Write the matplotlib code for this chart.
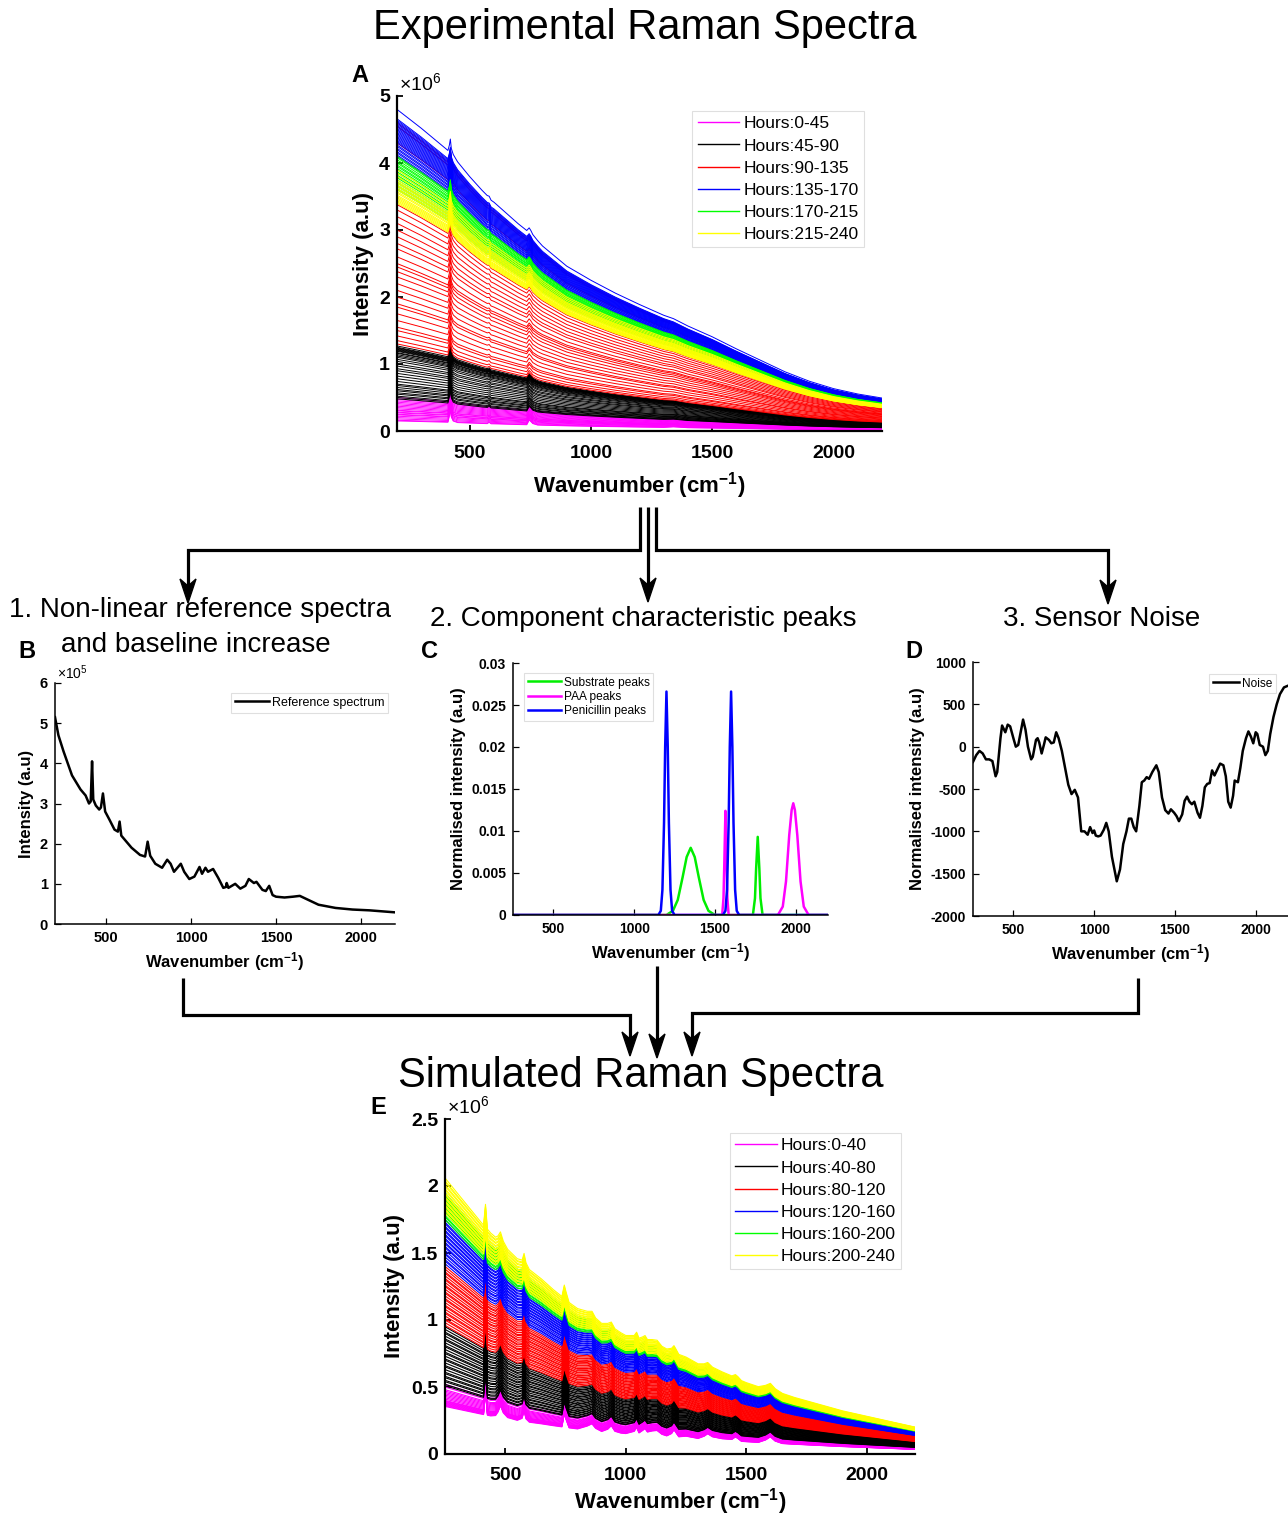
import numpy as np
import matplotlib
matplotlib.use('Agg')
import matplotlib.pyplot as plt
from matplotlib.lines import Line2D
from matplotlib.patches import Polygon

plt.rcParams['font.family'] = ['Liberation Sans', 'DejaVu Sans']
plt.rcParams['mathtext.fontset'] = 'custom'
plt.rcParams['mathtext.rm'] = 'Liberation Sans'
plt.rcParams['mathtext.it'] = 'Liberation Sans:italic'
plt.rcParams['mathtext.bf'] = 'Liberation Sans:bold'
plt.rcParams['axes.unicode_minus'] = False

# ---------------- DATA ----------------
COLORS = ['#ff00ff', '#000000', '#ff0000', '#0000ff', '#00ff00', '#ffff00']

# Panel A: experimental spectra (intensity x1e6)
wn_A = [200, 250, 300, 350, 400, 410, 416, 420, 424, 432, 450, 500, 550, 572, 580, 588, 600,
        650, 700, 735, 745, 752, 760, 780, 800, 900, 1000, 1100, 1200, 1300, 1340, 1400,
        1500, 1600, 1700, 1800, 1900, 2000, 2100, 2200]
base_A = [4.78, 4.64, 4.50, 4.35, 4.20, 4.17, 4.15, 4.14, 4.12, 4.09, 4.00, 3.78, 3.58, 3.50,
          3.47, 3.43, 3.40, 3.24, 3.08, 2.98, 2.95, 2.93, 2.90, 2.83, 2.75, 2.45, 2.24, 2.05,
          1.88, 1.72, 1.66, 1.56, 1.40, 1.22, 1.05, 0.88, 0.74, 0.63, 0.55, 0.49]
peak_A = [0, 0, 0, 0, 0, 0, 0.10, 0.20, 0.08, 0.02, 0, 0, 0, 0, 0.02, 0, 0,
          0, 0, 0, 0.07, 0.05, 0.02, 0, 0, 0, 0, 0, 0, 0, 0.01, 0,
          0, 0, 0, 0, 0, 0, 0, 0]
labels_A = ['Hours:0-45', 'Hours:45-90', 'Hours:90-135', 'Hours:135-170',
            'Hours:170-215', 'Hours:215-240']
start_A_0_45 = [0.50, 0.47, 0.45, 0.43, 0.41, 0.39, 0.37, 0.35, 0.33, 0.31, 0.30, 0.28,
                0.27, 0.25, 0.24, 0.22, 0.20, 0.18, 0.16, 0.15]
start_A_45_90 = [1.27, 1.25, 1.24, 1.23, 1.22, 1.21, 1.20, 1.19, 1.17, 1.16, 1.14, 1.12,
                 1.10, 1.07, 1.04, 1.00, 0.97, 0.93, 0.90, 0.86, 0.82, 0.78, 0.74, 0.70,
                 0.68, 0.65, 0.62, 0.60, 0.57, 0.55, 0.52, 0.50, 0.48]
start_A_90_135 = [3.38, 3.30, 3.20, 3.10, 3.00, 2.90, 2.80, 2.72, 2.60, 2.50, 2.45, 2.38,
                  2.30, 2.20, 2.10, 2.00, 1.90, 1.85, 1.75, 1.65, 1.55, 1.50, 1.42, 1.35,
                  1.30, 4.60, 4.55, 4.30]
start_A_135_170 = [4.80, 4.66, 4.64, 4.62, 4.60, 4.58, 4.56, 4.54, 4.52, 4.50, 4.48, 4.46,
                   4.44, 4.42, 4.40, 4.38, 4.36, 4.34, 4.32, 4.30, 4.27, 4.25, 4.22, 4.20,
                   4.17, 4.15, 4.12, 4.10]
start_A_170_215 = [4.10, 4.08, 4.05, 4.02, 4.00, 3.97, 3.95, 3.92, 3.90, 3.87, 3.85, 3.82,
                   3.80, 3.78, 3.75, 3.72, 3.70, 3.67, 3.65, 3.62, 3.60]
start_A_215_240 = [3.90, 3.85, 3.80, 3.75, 3.72, 3.70, 3.67, 3.65, 3.62, 3.60, 3.57, 3.55,
                   3.52, 3.50, 3.48, 3.46, 3.44, 3.42, 3.40]

# Panel B: reference spectrum (x1e5)
wn_B = [200, 220, 250, 300, 350, 380, 400, 410, 418, 425, 440, 460, 470, 482, 495, 520, 550,
        570, 580, 590, 620, 650, 700, 730, 745, 760, 790, 830, 860, 880, 900, 940, 960, 990,
        1020, 1050, 1065, 1085, 1100, 1130, 1160, 1190, 1205, 1210, 1220, 1260, 1290, 1320,
        1340, 1370, 1385, 1420, 1440, 1460, 1480, 1500, 1550, 1600, 1640, 1680, 1750, 1850,
        1950, 2050, 2200]
int_B = [5.15, 4.70, 4.30, 3.70, 3.35, 3.20, 3.00, 3.05, 4.05, 3.10, 2.95, 2.85, 2.90, 3.25,
         2.80, 2.60, 2.35, 2.30, 2.55, 2.20, 2.05, 1.90, 1.72, 1.68, 2.05, 1.70, 1.50, 1.40,
         1.60, 1.50, 1.30, 1.50, 1.30, 1.12, 1.18, 1.42, 1.25, 1.40, 1.30, 1.37, 1.15, 0.90,
         0.92, 1.02, 0.90, 1.00, 0.88, 0.95, 1.12, 1.02, 1.05, 0.85, 0.82, 0.95, 0.72, 0.68,
         0.66, 0.68, 0.70, 0.62, 0.48, 0.40, 0.36, 0.34, 0.29]

# Panel C: component peaks
wn_sub = [250, 1200, 1240, 1270, 1300, 1325, 1350, 1375, 1400, 1430, 1460, 1500,
          1735, 1748, 1755, 1765, 1775, 1782, 1795, 2200]
int_sub = [0, 0, 0.0005, 0.0018, 0.0045, 0.0069, 0.0080, 0.0069, 0.0045, 0.0018, 0.0005, 0,
           0, 0.002, 0.0055, 0.0093, 0.0055, 0.002, 0, 0]
wn_paa = [250, 1545, 1553, 1558, 1565, 1572, 1577, 1585,
          1890, 1920, 1940, 1960, 1975, 1985, 1995, 2010, 2030, 2050, 2080, 2200]
int_paa = [0, 0, 0.002, 0.006, 0.0124, 0.006, 0.002, 0,
           0, 0.001, 0.004, 0.0095, 0.0125, 0.0133, 0.0125, 0.0095, 0.004, 0.001, 0, 0]
wn_pen = [250, 1150, 1165, 1175, 1185, 1192, 1200, 1208, 1215, 1225, 1235, 1250,
          1550, 1565, 1575, 1585, 1592, 1600, 1608, 1615, 1625, 1635, 1650, 2200]
int_pen = [0, 0, 0.0005, 0.003, 0.011, 0.020, 0.0266, 0.020, 0.011, 0.003, 0.0005, 0,
           0, 0.0005, 0.003, 0.011, 0.020, 0.0266, 0.020, 0.011, 0.003, 0.0005, 0, 0]

# Panel D: sensor noise
wn_D = [250, 270, 290, 310, 330, 350, 370, 390, 400, 420, 430, 450, 465, 480, 500, 515, 530,
        550, 560, 575, 590, 610, 620, 640, 650, 660, 675, 690, 700, 720, 735, 750, 765, 780,
        800, 820, 840, 860, 880, 900, 910, 920, 940, 960, 975, 990, 1000, 1010, 1025, 1040,
        1060, 1075, 1090, 1110, 1140, 1160, 1180, 1200, 1215, 1230, 1245, 1260, 1280, 1295,
        1310, 1325, 1340, 1360, 1385, 1400, 1420, 1440, 1460, 1475, 1495, 1510, 1525, 1545,
        1560, 1575, 1590, 1605, 1620, 1640, 1655, 1670, 1685, 1700, 1715, 1730, 1745, 1760,
        1780, 1800, 1815, 1830, 1845, 1860, 1870, 1890, 1905, 1920, 1940, 1955, 1970, 1985,
        2000, 2010, 2025, 2045, 2060, 2075, 2090, 2110, 2130, 2150, 2175, 2200]
noise_D = [-180, -100, -50, -80, -150, -150, -170, -350, -300, 100, 250, 170, 260, 240, 100,
           0, 20, 220, 320, 200, 0, -150, -120, 80, 100, 50, -80, 30, 110, 80, 40, 50, 170,
           100, -50, -250, -450, -560, -510, -600, -800, -1000, -1000, -1040, -950, -1020,
           -990, -1050, -1060, -1050, -980, -900, -1000, -1300, -1590, -1450, -1150, -1000,
           -850, -850, -950, -1000, -700, -420, -400, -360, -380, -300, -220, -300, -600,
           -750, -790, -740, -780, -820, -880, -800, -640, -590, -650, -680, -650, -780,
           -840, -700, -480, -440, -430, -280, -340, -280, -200, -220, -350, -650, -720,
           -580, -400, -420, -250, -50, 100, 180, 120, 40, 170, 150, 20, 0, -100, -50, 150,
           350, 500, 620, 700, 720]

# Panel E: simulated spectra (x1e6)
wn_E = [250, 300, 350, 400, 410, 418, 426, 440, 460, 470, 480, 492, 510, 550, 570, 578, 586,
        600, 650, 700, 735, 745, 752, 765, 800, 840, 860, 875, 900, 925, 940, 955, 980, 1000,
        1035, 1045, 1055, 1070, 1080, 1090, 1110, 1130, 1150, 1170, 1190, 1200, 1208, 1220,
        1250, 1300, 1325, 1340, 1360, 1400, 1440, 1455, 1465, 1480, 1500, 1550, 1580, 1600,
        1620, 1650, 1700, 1800, 1900, 2000, 2100, 2200]
base_E = [2.05, 1.94, 1.83, 1.72, 1.70, 1.685, 1.67, 1.64, 1.60, 1.58, 1.56, 1.54, 1.51, 1.45,
          1.42, 1.41, 1.40, 1.37, 1.30, 1.22, 1.17, 1.155, 1.145, 1.125, 1.08, 1.03, 1.01,
          0.99, 0.97, 0.95, 0.93, 0.92, 0.90, 0.88, 0.86, 0.855, 0.85, 0.84, 0.835, 0.83,
          0.82, 0.81, 0.79, 0.78, 0.765, 0.755, 0.75, 0.74, 0.71, 0.67, 0.65, 0.64, 0.625,
          0.60, 0.57, 0.56, 0.555, 0.545, 0.53, 0.50, 0.49, 0.48, 0.47, 0.45, 0.42, 0.37,
          0.32, 0.28, 0.24, 0.20]
peak_E = [0, 0, 0, 0, 0, 0.17, 0, 0, 0.01, 0.04, 0.09, 0.04, 0.01, 0, 0.02, 0.08, 0.02,
          0, 0, 0, 0, 0.10, 0.06, 0, 0, 0.03, 0.05, 0.02, 0, 0.02, 0.05, 0.01, 0, 0,
          0.02, 0.05, 0.01, 0.03, 0.045, 0.02, 0.03, 0.035, 0.01, 0, 0.02, 0.05, 0.03, 0,
          0.01, 0, 0.02, 0.04, 0.02, 0.01, 0.01, 0.03, 0.02, 0, 0, 0, 0.02, 0.045,
          0.015, 0, 0, 0, 0, 0, 0, 0]
labels_E = ['Hours:0-40', 'Hours:40-80', 'Hours:80-120', 'Hours:120-160',
            'Hours:160-200', 'Hours:200-240']
start_E_0_40 = [0.52, 0.50, 0.48, 0.47, 0.46, 0.45, 0.44, 0.43, 0.42, 0.41, 0.40, 0.395,
                0.39, 0.385, 0.38, 0.375, 0.37, 0.365, 0.36, 0.355]
start_E_40_80 = [0.95, 0.93, 0.91, 0.90, 0.88, 0.86, 0.85, 0.83, 0.81, 0.80, 0.78, 0.76,
                 0.75, 0.73, 0.71, 0.70, 0.68, 0.66, 0.65, 0.63, 0.61, 0.60, 0.58, 0.57,
                 0.55, 0.54, 0.52, 0.51]
start_E_80_120 = [1.40, 1.38, 1.36, 1.35, 1.33, 1.31, 1.30, 1.28, 1.26, 1.25, 1.23, 1.21,
                  1.20, 1.18, 1.16, 1.15, 1.13, 1.11, 1.10, 1.08, 1.06, 1.05, 1.03, 1.01,
                  1.00, 0.98, 0.96]
start_E_120_160 = [1.75, 1.73, 1.72, 1.70, 1.69, 1.67, 1.66, 1.64, 1.63, 1.61, 1.60, 1.58,
                   1.57, 1.55, 1.54, 1.52, 1.50, 1.49, 1.47, 1.45, 1.44, 1.42]
start_E_160_200 = [1.95, 1.93, 1.92, 1.90, 1.89, 1.87, 1.86, 1.84, 1.83, 1.81, 1.80, 1.78,
                   1.77, 1.75]
start_E_200_240 = [2.06, 2.04, 2.03, 2.01, 2.00, 1.98, 1.97, 1.95, 1.94, 1.92, 1.91, 1.89,
                   1.88, 1.86, 1.85, 1.83, 1.82, 1.80]

# ---------------- FIGURE ----------------
W, H = 1288, 1520
fig = plt.figure(figsize=(W / 100, H / 100), dpi=100)


def add_ax(l, t, r, b):
    return fig.add_axes([l / W, 1 - b / H, (r - l) / W, (b - t) / H])


def fx(x):
    return x / W


def fy(y):
    return 1 - y / H


def style(ax, lw, tsize, pad=5):
    for s in ['top', 'right']:
        ax.spines[s].set_visible(False)
    for s in ['left', 'bottom']:
        ax.spines[s].set_linewidth(lw)
    ax.tick_params(direction='in', length=4, width=lw * 0.8, labelsize=tsize, pad=pad)
    for lab in ax.get_xticklabels() + ax.get_yticklabels():
        lab.set_fontweight('bold')


def legend(ax, labels, colors, anchor, fsize, lw, hlen, spacing=0.18):
    handles = [Line2D([], [], color=c, lw=lw) for c in colors]
    lg = ax.legend(handles, labels, loc='upper left', bbox_to_anchor=anchor,
                   borderaxespad=0, fontsize=fsize, frameon=True, fancybox=False,
                   handlelength=hlen, handletextpad=0.25, labelspacing=spacing,
                   borderpad=0.3)
    lg.get_frame().set_edgecolor('#d8d8d8')
    lg.get_frame().set_linewidth(0.8)
    return lg


# ----- Panel A -----
axA = add_ax(397, 96, 882, 431)
wnA = np.array(wn_A)
bA = np.array(base_A) / base_A[0]
pA = np.array(peak_A)
groups_A = [start_A_0_45, start_A_45_90, start_A_90_135, start_A_135_170,
            start_A_170_215, start_A_215_240]
for col, starts in zip(COLORS, groups_A):
    for s in starts:
        axA.plot(wnA, s * bA + pA, color=col, lw=0.7)
axA.set_xlim(200, 2200)
axA.set_ylim(0, 5)
axA.set_xticks([500, 1000, 1500, 2000])
axA.set_yticks([0, 1, 2, 3, 4, 5])
style(axA, 1.6, 14)
axA.tick_params(axis='x', pad=10)
axA.set_xlabel('Wavenumber (cm$^{\\mathbf{-1}}$)', fontsize=16, fontweight='bold', labelpad=6)
axA.set_ylabel('Intensity (a.u)', fontsize=16, fontweight='bold', labelpad=4)
axA.text(0.005, 1.005, '$\\times$10$^{6}$', transform=axA.transAxes, fontsize=14,
         ha='left', va='bottom')
legend(axA, labels_A, COLORS, (0.609, 0.955), 12.5, 1.0, 2.4, spacing=0.4)

# ----- Panel B -----
axB = add_ax(55, 683, 395, 924)
axB.plot(wn_B, int_B, color='k', lw=1.8)
axB.set_xlim(200, 2200)
axB.set_ylim(0, 6)
axB.set_xticks([500, 1000, 1500, 2000])
axB.set_yticks([0, 1, 2, 3, 4, 5, 6])
style(axB, 1.1, 10.5)
axB.set_xlabel('Wavenumber (cm$^{\\mathbf{-1}}$)', fontsize=12, fontweight='bold', labelpad=4)
axB.set_ylabel('Intensity (a.u)', fontsize=12, fontweight='bold', labelpad=4)
axB.text(0.005, 1.005, '$\\times$10$^{5}$', transform=axB.transAxes, fontsize=10,
         ha='left', va='bottom')
legend(axB, ['Reference spectrum'], ['k'], (0.518, 0.958), 9, 1.8, 2.7)

# ----- Panel C -----
axC = add_ax(513, 663, 828, 915)
axC.plot(wn_sub, int_sub, color='#00ee00', lw=1.8)
axC.plot(wn_paa, int_paa, color='#ff00ff', lw=1.8)
axC.plot(wn_pen, int_pen, color='#0000ff', lw=1.8)
axC.set_xlim(250, 2200)
axC.set_ylim(0, 0.03)
axC.set_xticks([500, 1000, 1500, 2000])
axC.set_yticks([0, 0.005, 0.01, 0.015, 0.02, 0.025, 0.03])
axC.set_yticklabels(['0', '0.005', '0.01', '0.015', '0.02', '0.025', '0.03'])
style(axC, 1.1, 10)
axC.set_xlabel('Wavenumber (cm$^{\\mathbf{-1}}$)', fontsize=12, fontweight='bold', labelpad=4)
axC.set_ylabel('Normalised intensity (a.u)', fontsize=12, fontweight='bold', labelpad=4)
legend(axC, ['Substrate peaks', 'PAA peaks', 'Penicillin peaks'],
       ['#00ee00', '#ff00ff', '#0000ff'], (0.035, 0.96), 8.6, 1.8, 2.8)

# ----- Panel D -----
axD = add_ax(973, 662, 1288, 916)
axD.plot(wn_D, noise_D, color='k', lw=1.8)
axD.set_xlim(250, 2200)
axD.set_ylim(-2000, 1000)
axD.set_xticks([500, 1000, 1500, 2000])
axD.set_yticks([-2000, -1500, -1000, -500, 0, 500, 1000])
style(axD, 1.1, 10)
axD.set_xlabel('Wavenumber (cm$^{\\mathbf{-1}}$)', fontsize=12, fontweight='bold', labelpad=4)
axD.set_ylabel('Normalised intensity (a.u)', fontsize=12, fontweight='bold', labelpad=4)
legend(axD, ['Noise'], ['k'], (0.749, 0.953), 8.6, 1.8, 2.2)

# ----- Panel E -----
axE = add_ax(445, 1119, 915, 1454)
wnE = np.array(wn_E)
bE = np.array(base_E) / base_E[0]
pE = np.array(peak_E)
groups_E = [start_E_0_40, start_E_40_80, start_E_80_120, start_E_120_160,
            start_E_160_200, start_E_200_240]
axE.plot(wnE, 0 * bE, color='#ff00ff', lw=1.0)
for col, starts in zip(COLORS, groups_E):
    for s in starts:
        axE.plot(wnE, s * bE + pE, color=col, lw=0.8)
axE.set_xlim(250, 2200)
axE.set_ylim(0, 2.5)
axE.set_xticks([500, 1000, 1500, 2000])
axE.set_yticks([0, 0.5, 1, 1.5, 2, 2.5])
axE.set_yticklabels(['0', '0.5', '1', '1.5', '2', '2.5'])
style(axE, 1.6, 14)
axE.tick_params(axis='x', pad=9)
axE.set_xlabel('Wavenumber (cm$^{\\mathbf{-1}}$)', fontsize=16, fontweight='bold', labelpad=2)
axE.set_ylabel('Intensity (a.u)', fontsize=16, fontweight='bold', labelpad=4)
axE.text(0.005, 1.005, '$\\times$10$^{6}$', transform=axE.transAxes, fontsize=14,
         ha='left', va='bottom')
legend(axE, labels_E, COLORS, (0.606, 0.958), 12.5, 1.0, 2.4, spacing=0.4)

# ----- Titles / labels -----
fig.text(fx(645), fy(28), 'Experimental Raman Spectra', fontsize=30, ha='center', va='center')
fig.text(fx(641), fy(1076), 'Simulated Raman Spectra', fontsize=30, ha='center', va='center')
fig.text(fx(200), fy(610), '1. Non-linear reference spectra', fontsize=20, ha='center', va='center')
fig.text(fx(196), fy(645), 'and baseline increase', fontsize=20, ha='center', va='center')
fig.text(fx(643), fy(619), '2. Component characteristic peaks', fontsize=20, ha='center', va='center')
fig.text(fx(1102), fy(619), '3. Sensor Noise', fontsize=20, ha='center', va='center')
for lab, (x, y) in {'A': (360, 75), 'B': (27, 652), 'C': (430, 652), 'D': (914, 652),
                    'E': (378, 1107)}.items():
    fig.text(fx(x), fy(y), lab, fontsize=17, fontweight='bold', ha='center', va='center')


# ----- Arrows -----
def seg(pts, lw=2.3):
    xs = [fx(p[0]) for p in pts]
    ys = [fy(p[1]) for p in pts]
    fig.add_artist(Line2D(xs, ys, color='k', lw=lw, transform=fig.transFigure,
                          solid_joinstyle='miter', solid_capstyle='butt'))


def head(x, y, w=8, L=24, notch=7):
    pts = [(x, y), (x - w, y - L), (x, y - L + notch), (x + w, y - L)]
    fig.add_artist(Polygon([(fx(a), fy(b)) for a, b in pts], closed=True, color='k',
                           transform=fig.transFigure))


seg([(640, 507), (640, 550), (188, 550), (188, 590)])
head(188, 603)
seg([(648, 507), (648, 590)])
head(648, 602)
seg([(656, 507), (656, 550), (1108, 550), (1108, 592)])
head(1108, 604)

seg([(183, 978), (183, 1015), (630, 1015), (630, 1043)])
head(630, 1056)
seg([(657, 966), (657, 1045)])
head(657, 1058)
seg([(1138, 978), (1138, 1013), (692, 1013), (692, 1043)])
head(692, 1056)

fig.savefig('out.png', dpi=100)
